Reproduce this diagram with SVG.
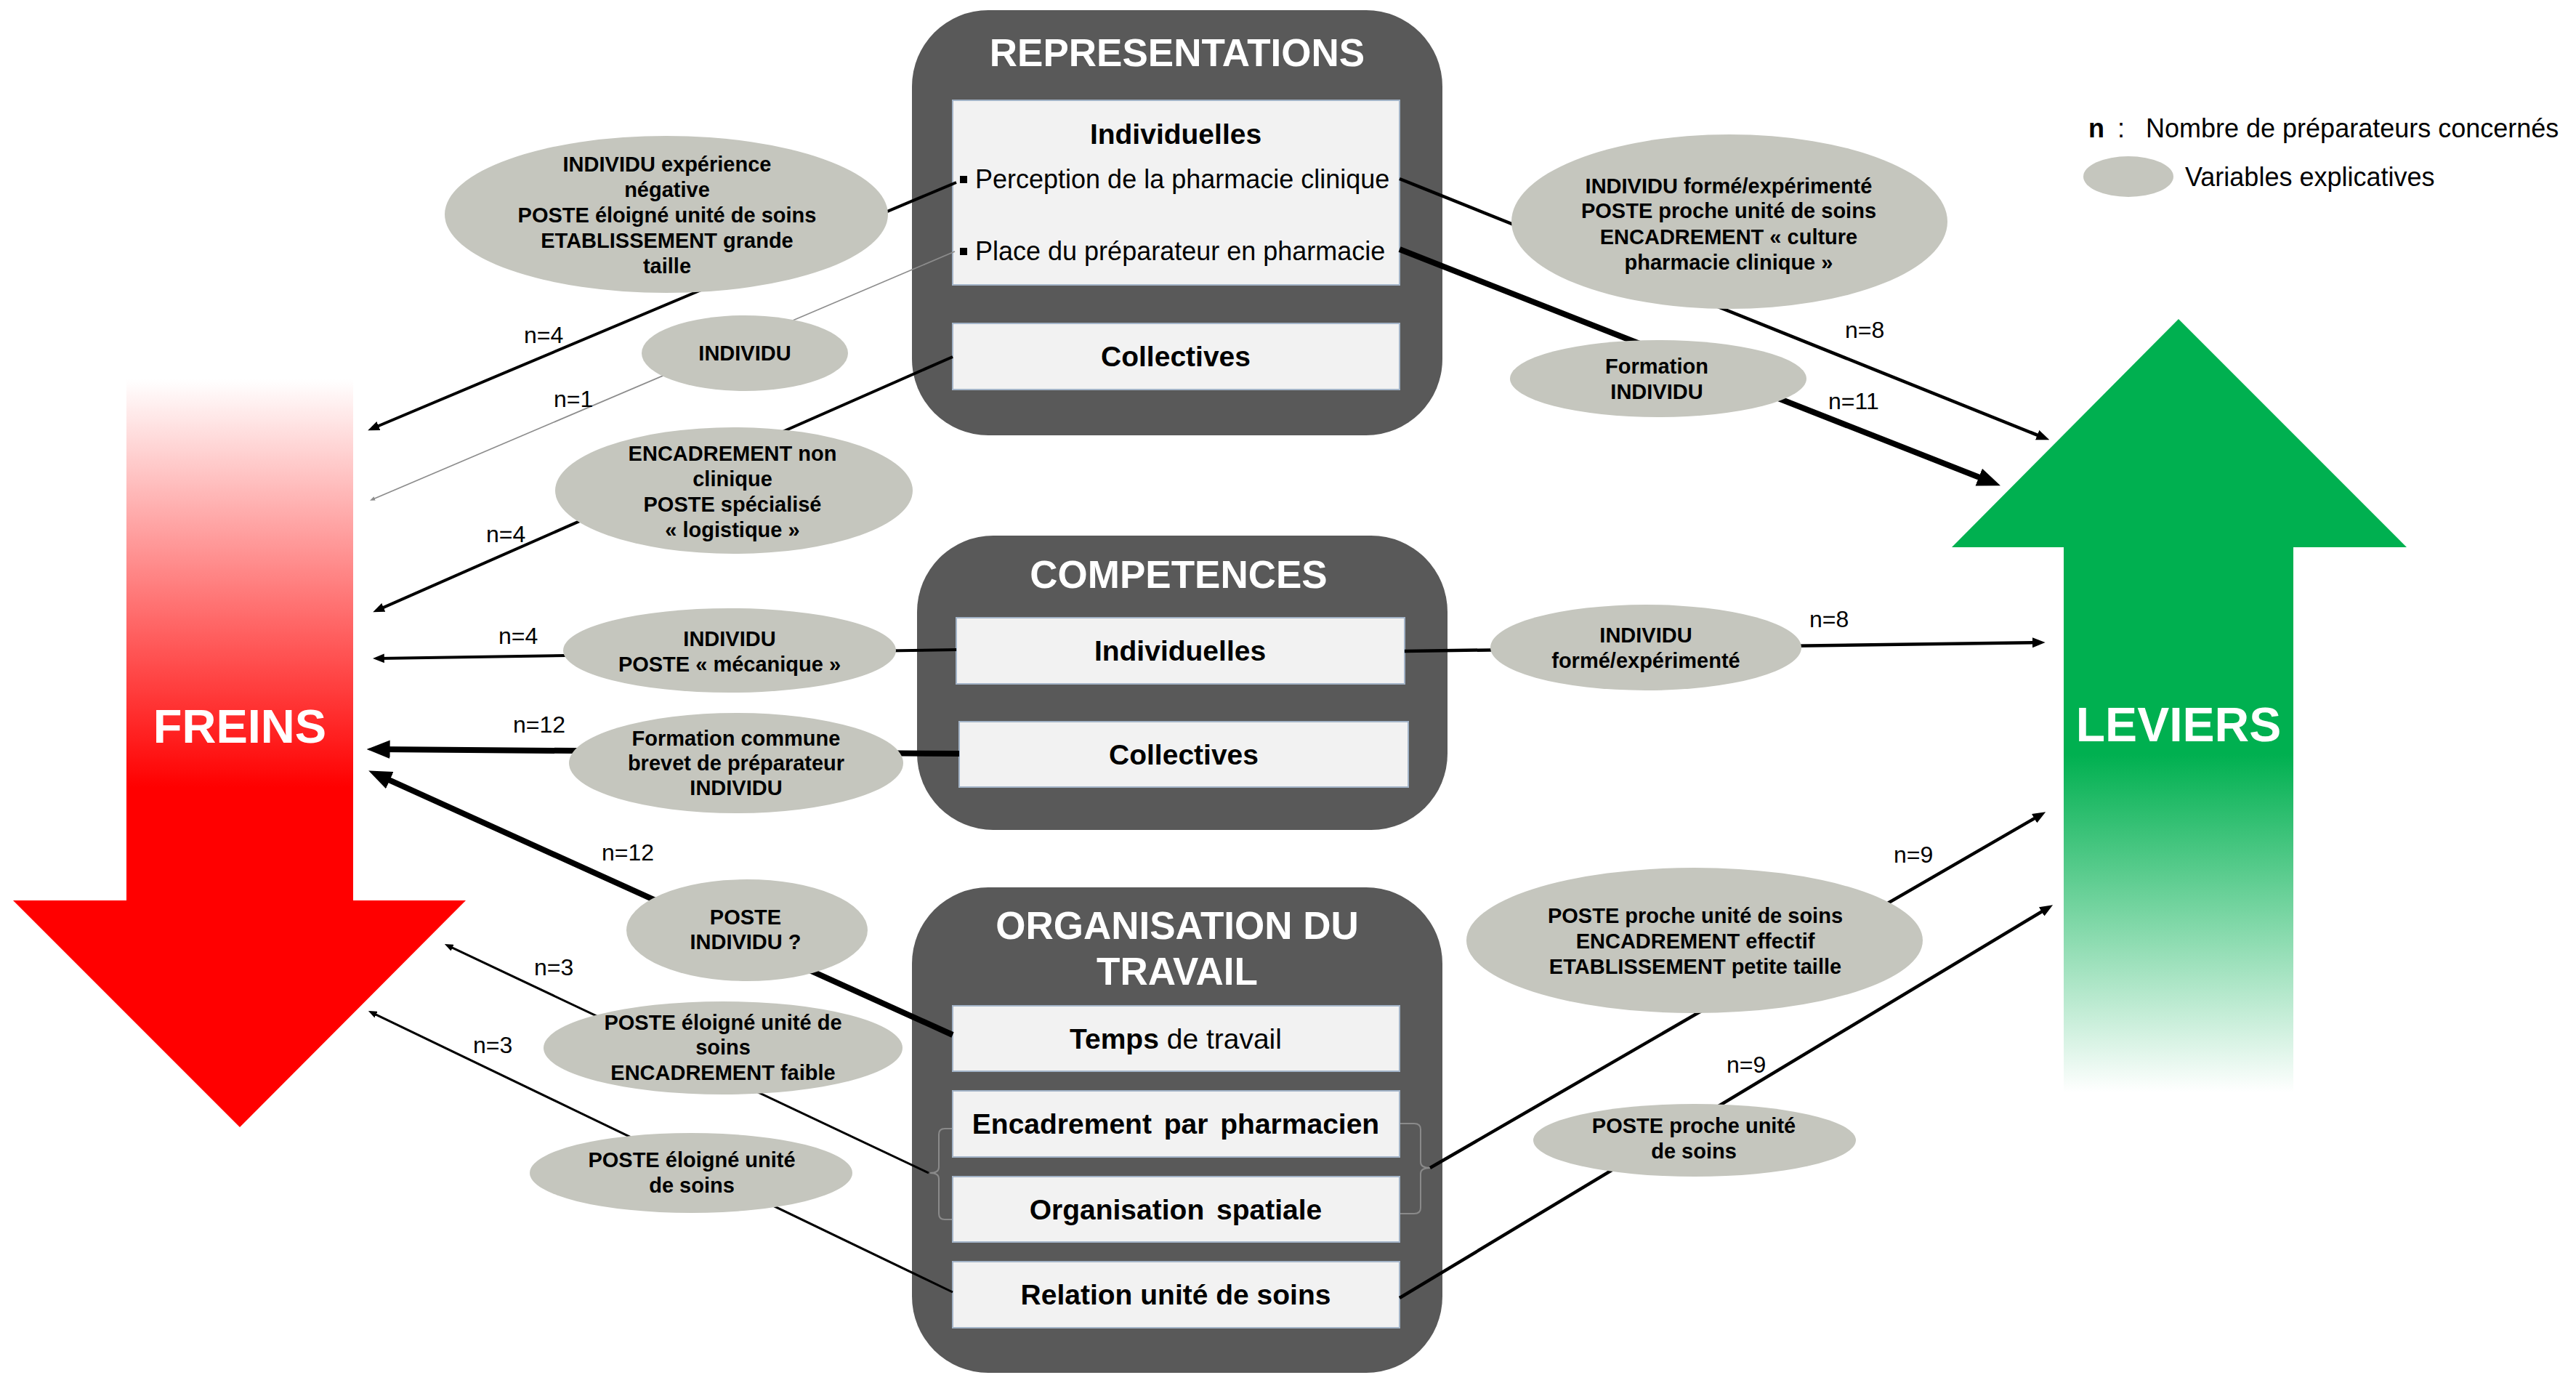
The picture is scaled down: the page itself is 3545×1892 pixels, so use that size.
<svg xmlns="http://www.w3.org/2000/svg" width="3545" height="1892" viewBox="0 0 3545 1892">
<style>
text{font-family:"Liberation Sans",Arial,Helvetica,sans-serif}
.title{font-size:53px;font-weight:bold;fill:#fff;text-anchor:middle}
.big{font-size:66px;font-weight:bold;fill:#fff;text-anchor:middle}
.lbl{font-size:39px;font-weight:bold;fill:#000;text-anchor:middle}
.lblr{font-size:39px;fill:#000;text-anchor:middle}
.item{font-size:36px;fill:#000}
.ev{font-size:29px;font-weight:bold;fill:#000;text-anchor:middle}
.n{font-size:32px;fill:#000}
.leg{font-size:36px;fill:#000}
.dark{fill:#595959}
.inner{fill:#F2F2F2;stroke:#A3B4C8;stroke-width:2}
.ell{fill:#C5C6BE}
.c{stroke:#000;fill:none;stroke-linecap:butt}
.brace{stroke:#8A8A8A;stroke-width:2;fill:none}
</style>
<defs>
<linearGradient id="gRed" gradientUnits="userSpaceOnUse" x1="0" y1="522" x2="0" y2="1083">
<stop offset="0" stop-color="#FFFFFF"/>
<stop offset="1" stop-color="#FF0000"/>
</linearGradient>
<linearGradient id="gGreen" gradientUnits="userSpaceOnUse" x1="0" y1="1038" x2="0" y2="1503">
<stop offset="0" stop-color="#00B050"/>
<stop offset="1" stop-color="#FFFFFF"/>
</linearGradient>
<marker id="ah" viewBox="0 0 10 8" refX="4" refY="4" markerWidth="4" markerHeight="3.2" orient="auto" markerUnits="strokeWidth">
<path d="M0,0 L10,4 L0,8 z" fill="#000"/>
</marker>
<marker id="ahg" viewBox="0 0 10 8" refX="4" refY="4" markerWidth="4" markerHeight="3.2" orient="auto" markerUnits="strokeWidth">
<path d="M0,0 L10,4 L0,8 z" fill="#8C8C8C"/>
</marker>
</defs>
<rect width="3545" height="1892" fill="#fff"/>

<g id="freins">
<polygon points="174,522 486,522 486,1239 641,1239 330,1551 18,1239 174,1239" fill="url(#gRed)"/>
<text class="big" x="330" y="1022" style="font-size:65px">FREINS</text>
</g>
<g id="leviers">
<polygon points="2998,439 3312,753 3156,753 3156,1503 2840,1503 2840,753 2686,753" fill="url(#gGreen)"/>
<text class="big" x="2998" y="1020">LEVIERS</text>
</g>

<g id="representations">
<rect class="dark" x="1255" y="14" width="730" height="585" rx="105" ry="105"/>
<text class="title" x="1620" y="91">REPRESENTATIONS</text>
<rect class="inner" x="1311" y="138" width="615" height="254"/>
<text class="lbl" x="1618" y="198">Individuelles</text>
<rect x="1321" y="242" width="10" height="10" fill="#000"/>
<text class="item" x="1342" y="259">Perception de la pharmacie clinique</text>
<rect x="1321" y="341" width="10" height="10" fill="#000"/>
<text class="item" x="1342" y="358">Place du préparateur en pharmacie</text>
<rect class="inner" x="1311" y="445" width="615" height="91"/>
<text class="lbl" x="1618" y="504">Collectives</text>
</g>

<g id="competences">
<rect class="dark" x="1262" y="737" width="730" height="405" rx="105" ry="105"/>
<text class="title" x="1622" y="809">COMPETENCES</text>
<rect class="inner" x="1316" y="850" width="617" height="91"/>
<text class="lbl" x="1624" y="909">Individuelles</text>
<rect class="inner" x="1320" y="993" width="618" height="90"/>
<text class="lbl" x="1629" y="1052">Collectives</text>
</g>

<g id="organisation">
<rect class="dark" x="1255" y="1221" width="730" height="668" rx="105" ry="105"/>
<text class="title" x="1620" y="1292">ORGANISATION DU</text>
<text class="title" x="1620" y="1355">TRAVAIL</text>
<rect class="inner" x="1311" y="1384" width="615" height="90"/>
<text class="lblr" x="1618" y="1443"><tspan font-weight="bold">Temps</tspan> de travail</text>
<rect class="inner" x="1311" y="1501" width="615" height="91"/>
<text class="lbl" x="1618" y="1560" word-spacing="6">Encadrement par pharmacien</text>
<rect class="inner" x="1311" y="1619" width="615" height="90"/>
<text class="lbl" x="1618" y="1678" word-spacing="6">Organisation spatiale</text>
<rect class="inner" x="1311" y="1736" width="615" height="91"/>
<text class="lbl" x="1618" y="1795">Relation unité de soins</text>
<path class="brace" d="M1310,1553 L1300,1553 Q1292,1553 1292,1561 L1292,1606 Q1292,1614 1280,1614 Q1292,1614 1292,1622 L1292,1670 Q1292,1678 1300,1678 L1310,1678"/>
<path class="brace" d="M1927,1546 L1946,1546 Q1955,1546 1955,1554 L1955,1599 Q1955,1607 1968,1607 Q1955,1607 1955,1615 L1955,1662 Q1955,1670 1946,1670 L1927,1670"/>
</g>

<g id="connectors">
<line class="c" x1="1316" y1="251" x2="515" y2="588.5" stroke-width="4" marker-end="url(#ah)"/>
<line x1="1314" y1="346" x2="513" y2="687" stroke="#8C8C8C" stroke-width="1.8" marker-end="url(#ahg)"/>
<line class="c" x1="1311" y1="491" x2="522" y2="838.4" stroke-width="4" marker-end="url(#ah)"/>
<line class="c" x1="1316" y1="894" x2="522.4" y2="905.9" stroke-width="4" marker-end="url(#ah)"/>
<line class="c" x1="1320" y1="1037" x2="523.8" y2="1031.1" stroke-width="8" marker-end="url(#ah)"/>
<line class="c" x1="1311" y1="1424" x2="524.7" y2="1068.3" stroke-width="8" marker-end="url(#ah)"/>
<line class="c" x1="1278" y1="1614" x2="618.3" y2="1302.1" stroke-width="3" marker-end="url(#ah)"/>
<line class="c" x1="1311" y1="1778" x2="513.3" y2="1394.1" stroke-width="3" marker-end="url(#ah)"/>
<line class="c" x1="1926" y1="246" x2="2810.3" y2="601.3" stroke-width="4.5" marker-end="url(#ah)"/>
<line class="c" x1="1926" y1="343" x2="2735.1" y2="661.3" stroke-width="8" marker-end="url(#ah)"/>
<line class="c" x1="1933" y1="896" x2="2803.8" y2="884.1" stroke-width="4.5" marker-end="url(#ah)"/>
<line class="c" x1="1968" y1="1607" x2="2805.8" y2="1122.6" stroke-width="4.5" marker-end="url(#ah)"/>
<line class="c" x1="1926" y1="1786" x2="2815.8" y2="1250.7" stroke-width="4.5" marker-end="url(#ah)"/>
<text class="n" x="721" y="472">n=4</text>
<text class="n" x="762" y="560">n=1</text>
<text class="n" x="669" y="746">n=4</text>
<text class="n" x="686" y="886">n=4</text>
<text class="n" x="706" y="1008">n=12</text>
<text class="n" x="828" y="1184">n=12</text>
<text class="n" x="735" y="1342">n=3</text>
<text class="n" x="651" y="1449">n=3</text>
<text class="n" x="2539" y="465">n=8</text>
<text class="n" x="2516" y="563">n=11</text>
<text class="n" x="2490" y="863">n=8</text>
<text class="n" x="2606" y="1187">n=9</text>
<text class="n" x="2376" y="1476">n=9</text>
</g>

<g id="ev1">
<ellipse class="ell" cx="917" cy="295" rx="305" ry="108"/>
<text class="ev" x="918" y="236">INDIVIDU expérience</text>
<text class="ev" x="918" y="271">négative</text>
<text class="ev" x="918" y="306">POSTE éloigné unité de soins</text>
<text class="ev" x="918" y="341">ETABLISSEMENT grande</text>
<text class="ev" x="918" y="376">taille</text>
</g>
<g id="ev2">
<ellipse class="ell" cx="1025" cy="486" rx="142" ry="52"/>
<text class="ev" x="1025" y="496">INDIVIDU</text>
</g>
<g id="ev3">
<ellipse class="ell" cx="1010" cy="675" rx="246" ry="87"/>
<text class="ev" x="1008" y="634">ENCADREMENT non</text>
<text class="ev" x="1008" y="669">clinique</text>
<text class="ev" x="1008" y="704">POSTE spécialisé</text>
<text class="ev" x="1008" y="739">« logistique »</text>
</g>
<g id="ev4">
<ellipse class="ell" cx="1004" cy="895" rx="229" ry="58"/>
<text class="ev" x="1004" y="889">INDIVIDU</text>
<text class="ev" x="1004" y="924">POSTE « mécanique »</text>
</g>
<g id="ev5">
<ellipse class="ell" cx="1013" cy="1050" rx="230" ry="69"/>
<text class="ev" x="1013" y="1026">Formation commune</text>
<text class="ev" x="1013" y="1060">brevet de préparateur</text>
<text class="ev" x="1013" y="1094">INDIVIDU</text>
</g>
<g id="ev6">
<ellipse class="ell" cx="1028" cy="1280" rx="166" ry="70"/>
<text class="ev" x="1026" y="1272">POSTE</text>
<text class="ev" x="1026" y="1306">INDIVIDU ?</text>
</g>
<g id="ev7">
<ellipse class="ell" cx="995" cy="1442" rx="247" ry="64"/>
<text class="ev" x="995" y="1417">POSTE éloigné unité de</text>
<text class="ev" x="995" y="1451">soins</text>
<text class="ev" x="995" y="1486">ENCADREMENT faible</text>
</g>
<g id="ev8">
<ellipse class="ell" cx="951" cy="1614" rx="222" ry="55"/>
<text class="ev" x="952" y="1606">POSTE éloigné unité</text>
<text class="ev" x="952" y="1641">de soins</text>
</g>
<g id="ev9">
<ellipse class="ell" cx="2380" cy="305" rx="300" ry="120"/>
<text class="ev" x="2379" y="266">INDIVIDU formé/expérimenté</text>
<text class="ev" x="2379" y="300">POSTE proche unité de soins</text>
<text class="ev" x="2379" y="336">ENCADREMENT « culture</text>
<text class="ev" x="2379" y="371">pharmacie clinique »</text>
</g>
<g id="ev10">
<ellipse class="ell" cx="2282" cy="521" rx="204" ry="53"/>
<text class="ev" x="2280" y="514">Formation</text>
<text class="ev" x="2280" y="549">INDIVIDU</text>
</g>
<g id="ev11">
<ellipse class="ell" cx="2265" cy="891" rx="214" ry="59"/>
<text class="ev" x="2265" y="884">INDIVIDU</text>
<text class="ev" x="2265" y="919">formé/expérimenté</text>
</g>
<g id="ev12">
<ellipse class="ell" cx="2332" cy="1294" rx="314" ry="100"/>
<text class="ev" x="2333" y="1270">POSTE proche unité de soins</text>
<text class="ev" x="2333" y="1305">ENCADREMENT effectif</text>
<text class="ev" x="2333" y="1340">ETABLISSEMENT petite taille</text>
</g>
<g id="ev13">
<ellipse class="ell" cx="2332" cy="1569" rx="222" ry="50"/>
<text class="ev" x="2331" y="1559">POSTE proche unité</text>
<text class="ev" x="2331" y="1594">de soins</text>
</g>

<g id="legend">
<text class="leg" x="2874" y="189" font-weight="bold">n</text>
<text class="leg" x="2914" y="189">:</text>
<text class="leg" x="2953" y="189">Nombre de préparateurs concernés</text>
<ellipse class="ell" cx="2929" cy="243" rx="62" ry="28"/>
<text class="leg" x="3007" y="256">Variables explicatives</text>
</g>
</svg>
